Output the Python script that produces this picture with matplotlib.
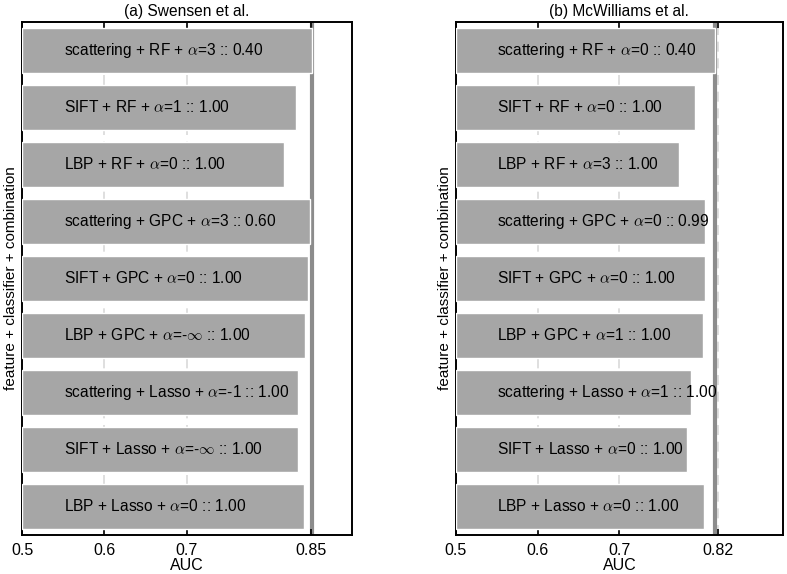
"""
Best AUC per feature + classifier combination, two datasets side by side.
"""
import matplotlib
matplotlib.use("Agg")
import matplotlib.pyplot as plt

plt.rcParams["font.family"] = ["Liberation Sans", "DejaVu Sans"]
plt.rcParams["mathtext.fontset"] = "cm"

BAR_COLOR = "#a6a6a6"
BEST_COLOR = "#8c8c8c"
GRID_COLOR = "#d9d9d9"

# rows listed top to bottom
features = ["scattering", "SIFT", "LBP"] * 3
classifiers = ["RF"] * 3 + ["GPC"] * 3 + ["Lasso"] * 3

alpha_a = ["3", "1", "0", "3", "0", "-inf", "-1", "-inf", "0"]
weight_a = [0.40, 1.00, 1.00, 0.60, 1.00, 1.00, 1.00, 1.00, 1.00]
auc_a = [0.852, 0.832, 0.818, 0.849, 0.847, 0.843, 0.835, 0.835, 0.842]

alpha_b = ["0", "0", "3", "0", "0", "1", "1", "0", "0"]
weight_b = [0.40, 1.00, 1.00, 0.99, 1.00, 1.00, 1.00, 1.00, 1.00]
auc_b = [0.817, 0.793, 0.773, 0.805, 0.805, 0.802, 0.788, 0.783, 0.804]

ticks_a = [0.5, 0.6, 0.7, 0.85]
ticks_b = [0.5, 0.6, 0.7, 0.82]


def fmt_alpha(al):
    # plain hyphen, math infinity, like the original figure
    return al.replace("inf", "$\\infty$")


def panel(ax, title, alphas, weights, aucs, ticks):
    n = len(aucs)
    ys = list(range(n - 1, -1, -1))
    for t in ticks[1:]:
        ax.axvline(t, color=GRID_COLOR, lw=1.2, ls=(0, (6, 4)), zorder=0)
    ax.axvline(max(aucs), color=BEST_COLOR, lw=3, zorder=1)
    ax.barh(ys, [a - 0.5 for a in aucs], left=0.5, height=0.78,
            color=BAR_COLOR, edgecolor="white", lw=1, zorder=3)
    for y, f, c, al, w in zip(ys, features, classifiers, alphas, weights):
        ax.text(0.551, y, f"{f} + {c} + $\\alpha$={fmt_alpha(al)} :: {w:.2f}",
                va="center", ha="left", fontsize=11.2, zorder=4)
    ax.set_xlim(0.5, 0.9)
    ax.set_ylim(-0.5, n - 0.5)
    ax.set_xticks(ticks)
    ax.set_xticklabels([f"{t:g}" for t in ticks])
    ax.set_yticks([])
    ax.tick_params(axis="x", direction="in", top=True, length=4, width=1.2,
                   labelsize=11.5, pad=6)
    for s in ax.spines.values():
        s.set_linewidth(1.4)
    ax.set_xlabel("AUC", fontsize=11.5, labelpad=0)
    ax.set_ylabel("feature + classifier + combination", fontsize=11, labelpad=3)
    ax.set_title(title, fontsize=11.2, pad=4)


fig = plt.figure(figsize=(7.87, 5.74), dpi=100)
ax1 = fig.add_axes([0.028, 0.068, 0.419, 0.894])
ax2 = fig.add_axes([0.579, 0.068, 0.416, 0.894])
panel(ax1, "(a) Swensen et al.", alpha_a, weight_a, auc_a, ticks_a)
panel(ax2, "(b) McWilliams et al.", alpha_b, weight_b, auc_b, ticks_b)

fig.savefig("out.png", dpi=100)
